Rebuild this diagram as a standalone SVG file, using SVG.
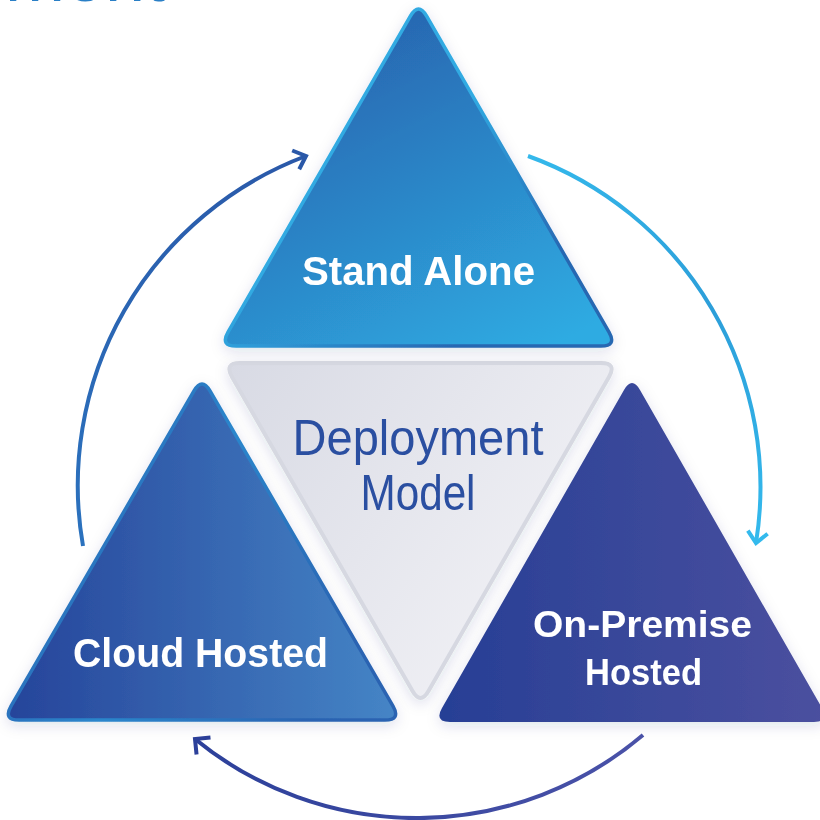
<svg xmlns="http://www.w3.org/2000/svg" width="820" height="820" viewBox="0 0 820 820">
  <defs>
    <linearGradient id="gTop" x1="0.25" y1="0" x2="0.85" y2="1">
      <stop offset="0" stop-color="#2760ac"/>
      <stop offset="1" stop-color="#2fabe2"/>
    </linearGradient>
    <linearGradient id="gTopStroke" x1="0" y1="0" x2="1" y2="1">
      <stop offset="0.45" stop-color="#30aae2"/>
      <stop offset="0.8" stop-color="#2867b2"/>
    </linearGradient>
    <linearGradient id="gLeft" x1="0" y1="0" x2="1" y2="0">
      <stop offset="0" stop-color="#26449a"/>
      <stop offset="1" stop-color="#4585c6"/>
    </linearGradient>
    <linearGradient id="gLeftStroke" x1="0" y1="0" x2="1" y2="0.4">
      <stop offset="0" stop-color="#2a55a8"/>
      <stop offset="0.55" stop-color="#2a86cc"/>
      <stop offset="1" stop-color="#2a64b2"/>
    </linearGradient>
    <linearGradient id="gRight" x1="0" y1="0" x2="1" y2="0">
      <stop offset="0" stop-color="#273f95"/>
      <stop offset="1" stop-color="#4b509f"/>
    </linearGradient>
    <linearGradient id="gCenter" x1="0" y1="0" x2="1" y2="0.6">
      <stop offset="0" stop-color="#d8dae4"/>
      <stop offset="1" stop-color="#f2f2f6"/>
    </linearGradient>
    <linearGradient id="gArcLeft" gradientUnits="userSpaceOnUse" x1="80" y1="545" x2="308" y2="155">
      <stop offset="0" stop-color="#2b72be"/>
      <stop offset="1" stop-color="#2a58a8"/>
    </linearGradient>
    <linearGradient id="gArcRight" gradientUnits="userSpaceOnUse" x1="528" y1="155" x2="756" y2="545">
      <stop offset="0" stop-color="#34b8eb"/>
      <stop offset="0.5" stop-color="#2c9ed9"/>
      <stop offset="1" stop-color="#34baed"/>
    </linearGradient>
    <linearGradient id="gArcBottom" gradientUnits="userSpaceOnUse" x1="193" y1="0" x2="643" y2="0">
      <stop offset="0" stop-color="#2c409a"/>
      <stop offset="1" stop-color="#4a52a8"/>
    </linearGradient>
    <filter id="shadow" x="-20%" y="-20%" width="140%" height="140%">
      <feDropShadow dx="0" dy="4" stdDeviation="7" flood-color="#1c2a6a" flood-opacity="0.13"/>
    </filter>
    <marker id="arrL" viewBox="-16 -13 20 26" markerWidth="20" markerHeight="26" refX="0" refY="0" markerUnits="userSpaceOnUse" orient="auto">
      <path d="M-11,-10 L0,0 L-11,10" fill="none" stroke="#2a58a8" stroke-width="4"/>
    </marker>
    <marker id="arrR" viewBox="-16 -13 20 26" markerWidth="20" markerHeight="26" refX="0" refY="0" markerUnits="userSpaceOnUse" orient="auto">
      <path d="M-11,-10 L0,0 L-11,10" fill="none" stroke="#34baed" stroke-width="4"/>
    </marker>
    <marker id="arrB" viewBox="-16 -13 20 26" markerWidth="20" markerHeight="26" refX="0" refY="0" markerUnits="userSpaceOnUse" orient="auto">
      <path d="M-11,-11 L0,0 L-11,11" fill="none" stroke="#2c409a" stroke-width="4"/>
    </marker>
  </defs>
  <style>
    .label { font-family: "Liberation Sans", Arial, sans-serif; font-weight: bold; fill: #ffffff; text-anchor: middle; }
    .center { font-family: "Liberation Sans", Arial, sans-serif; fill: #2c4fa1; text-anchor: middle; }
    .arc { fill: none; stroke-width: 4; }
  </style>

  <rect width="820" height="820" fill="#ffffff"/>

  <text x="165" y="1" font-family="Liberation Sans, Arial, sans-serif" font-size="72" fill="#2a7fc6" text-anchor="end">ment</text>

  <g id="connectors">
    <path class="arc" d="M83,546 A352,352 0 0 1 306,156" stroke="url(#gArcLeft)" marker-end="url(#arrL)"/>
    <path class="arc" d="M528,156 A352,352 0 0 1 756,543" stroke="url(#gArcRight)" marker-end="url(#arrR)"/>
    <path class="arc" d="M643,735 A350,350 0 0 1 195,739" stroke="url(#gArcBottom)" marker-end="url(#arrB)"/>
  </g>

  <g id="deployment-model" filter="url(#shadow)">
    <path d="M240,363 L601,363 Q617,363 609,376.9 L428.5,691.1 Q420.5,705 412.5,691.1 L232,376.9 Q224,363 240,363 Z" fill="url(#gCenter)" stroke="#d6d8e1" stroke-width="4"/>
    <text class="center" x="418" y="455" font-size="50" textLength="251" lengthAdjust="spacingAndGlyphs">Deployment</text>
    <text class="center" x="418" y="510" font-size="50" textLength="115" lengthAdjust="spacingAndGlyphs">Model</text>
  </g>

  <g id="stand-alone" filter="url(#shadow)">
    <path d="M410.5,15.9 Q418.5,2 426.5,15.9 L609,332.1 Q617,346 601,346 L236,346 Q220,346 228,332.1 Z" fill="url(#gTop)" stroke="url(#gTopStroke)" stroke-width="3.5"/>
    <text class="label" x="418.5" y="285" font-size="40" textLength="233" lengthAdjust="spacingAndGlyphs">Stand Alone</text>
  </g>

  <g id="cloud-hosted" filter="url(#shadow)">
    <path d="M194,390.9 Q202,377 210,390.9 L393,706.1 Q401,720 385,720 L19,720 Q3,720 11,706.1 Z" fill="url(#gLeft)" stroke="url(#gLeftStroke)" stroke-width="3.5"/>
    <text class="label" x="200.5" y="667" font-size="41" textLength="255" lengthAdjust="spacingAndGlyphs">Cloud Hosted</text>
  </g>

  <g id="on-premise-hosted" filter="url(#shadow)">
    <path d="M624,389.9 Q632,376 640,389.9 L822,708.1 Q830,722 814,722 L450,722 Q434,722 442,708.1 Z" fill="url(#gRight)"/>
    <text class="label" x="642.5" y="637" font-size="36" textLength="219" lengthAdjust="spacingAndGlyphs">On-Premise</text>
    <text class="label" x="643.5" y="685" font-size="36" textLength="117" lengthAdjust="spacingAndGlyphs">Hosted</text>
  </g>
</svg>
